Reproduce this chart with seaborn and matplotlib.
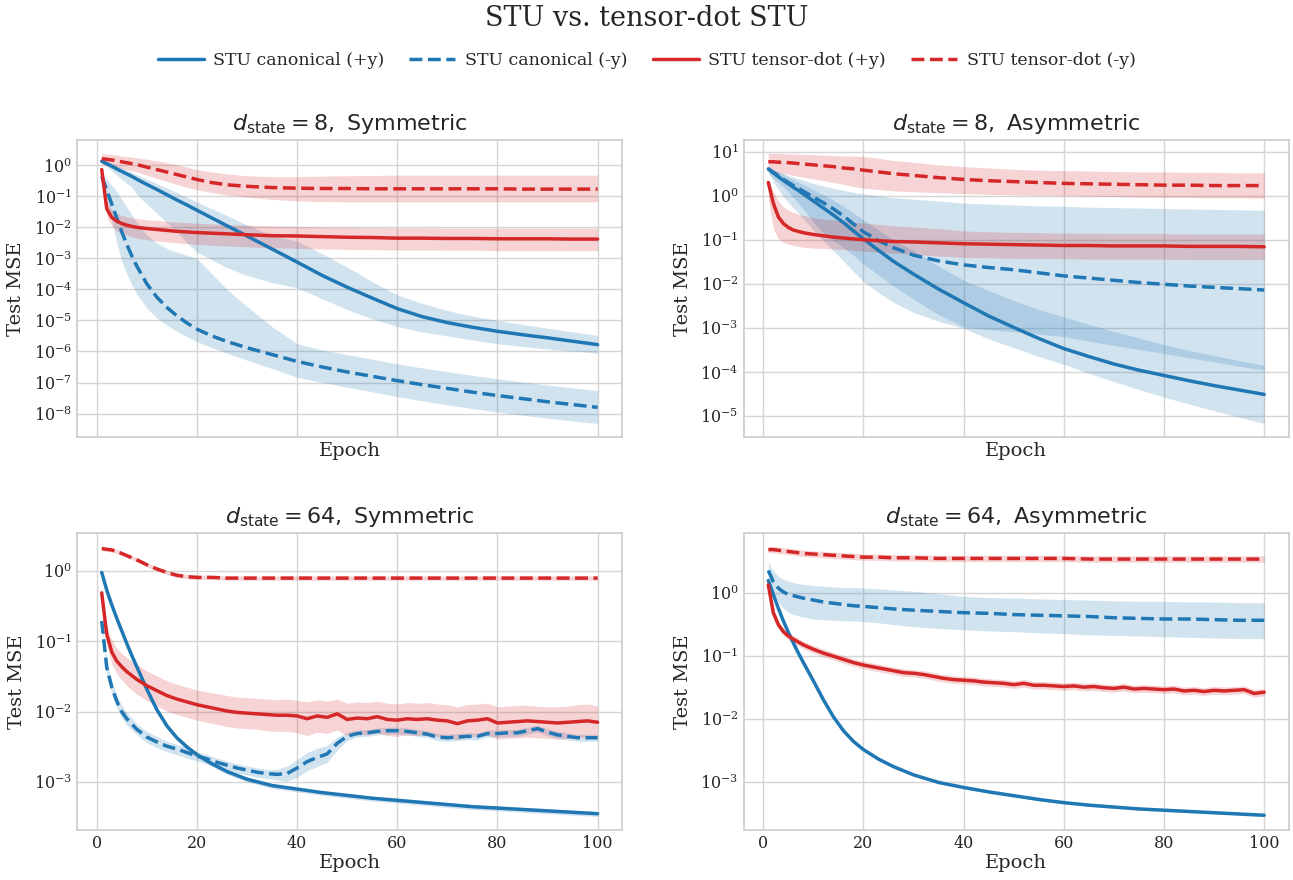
import numpy as np
import matplotlib
matplotlib.use("Agg")
import matplotlib.pyplot as plt
import matplotlib.ticker as mticker
import seaborn as sns

# ---------------- data (log10 of Test MSE) ----------------
EP_SMOOTH = [1, 2, 3, 4, 5, 6, 7, 8, 10, 12, 14, 16, 18, 20, 23, 26, 30, 35, 40, 45, 50, 55, 60, 65, 70, 75, 80, 85, 90, 95, 100]
EP_FINE = [1, 2, 3, 4, 5, 6, 8, 10, 12, 14, 16, 18, 20, 22, 24, 26, 28, 30, 32, 34, 36, 38, 40,
           42, 44, 46, 48, 50, 52, 54, 56, 58, 60, 62, 64, 66, 68, 70, 72, 74, 76, 78, 80, 82,
           84, 86, 88, 90, 92, 94, 96, 98, 100]

SERIES_LABELS = ["STU canonical (+y)", "STU canonical (-y)", "STU tensor-dot (+y)", "STU tensor-dot (-y)"]
PANEL_TITLES = [r"$d_{\mathrm{state}} = 8,\ \mathrm{Symmetric}$",
                r"$d_{\mathrm{state}} = 8,\ \mathrm{Asymmetric}$",
                r"$d_{\mathrm{state}} = 64,\ \mathrm{Symmetric}$",
                r"$d_{\mathrm{state}} = 64,\ \mathrm{Asymmetric}$"]

# --- d_state = 8, Symmetric ---
tl_canon_pos = [0.13, 0.05, -0.03, -0.12, -0.20, -0.28, -0.36, -0.45, -0.62, -0.78, -0.95, -1.12, -1.28, -1.45, -1.70, -1.95, -2.28, -2.70, -3.12, -3.55, -3.93, -4.28, -4.62, -4.88, -5.07, -5.22, -5.35, -5.46, -5.56, -5.67, -5.78]
tl_canon_pos_hi = [0.18, 0.12, 0.06, -0.02, -0.08, -0.15, -0.22, -0.30, -0.45, -0.59, -0.73, -0.88, -1.03, -1.19, -1.40, -1.62, -1.93, -2.25, -2.45, -2.85, -3.28, -3.75, -4.18, -4.45, -4.68, -4.86, -5.00, -5.13, -5.25, -5.37, -5.48]
tl_canon_pos_lo = [0.08, -0.05, -0.18, -0.32, -0.45, -0.58, -0.70, -0.95, -1.25, -1.55, -1.85, -2.15, -2.50, -2.80, -3.05, -3.30, -3.55, -3.78, -3.95, -4.30, -4.65, -4.95, -5.20, -5.37, -5.50, -5.63, -5.75, -5.84, -5.92, -5.99, -6.05]
tl_canon_neg = [-0.36, -0.80, -1.25, -1.70, -2.15, -2.55, -2.92, -3.25, -3.82, -4.25, -4.58, -4.85, -5.08, -5.28, -5.50, -5.68, -5.88, -6.10, -6.32, -6.50, -6.66, -6.80, -6.94, -7.07, -7.19, -7.31, -7.42, -7.52, -7.62, -7.71, -7.80]
tl_canon_neg_hi = [-0.28, -0.45, -0.65, -0.85, -1.10, -1.35, -1.60, -1.85, -2.25, -2.50, -2.68, -2.80, -2.90, -3.00, -3.50, -4.00, -4.55, -5.20, -5.75, -5.95, -6.10, -6.25, -6.40, -6.53, -6.65, -6.77, -6.88, -6.98, -7.08, -7.17, -7.26]
tl_canon_neg_lo = [-0.45, -1.10, -1.80, -2.50, -3.10, -3.50, -3.85, -4.15, -4.60, -4.92, -5.15, -5.35, -5.52, -5.68, -5.88, -6.05, -6.28, -6.55, -6.83, -7.00, -7.15, -7.30, -7.45, -7.59, -7.72, -7.84, -7.95, -8.05, -8.15, -8.24, -8.32]
tl_tensor_pos = [-0.14, -1.40, -1.68, -1.80, -1.88, -1.93, -1.97, -2.00, -2.04, -2.07, -2.10, -2.13, -2.15, -2.17, -2.19, -2.21, -2.24, -2.27, -2.28, -2.30, -2.32, -2.33, -2.35, -2.35, -2.36, -2.36, -2.37, -2.37, -2.37, -2.38, -2.38]
tl_tensor_pos_hi = [-0.05, -1.15, -1.42, -1.55, -1.62, -1.66, -1.69, -1.72, -1.76, -1.78, -1.81, -1.83, -1.85, -1.87, -1.89, -1.91, -1.93, -1.96, -1.97, -1.99, -2.00, -2.01, -2.02, -2.02, -2.03, -2.03, -2.03, -2.03, -2.03, -2.03, -2.03]
tl_tensor_pos_lo = [-0.25, -1.65, -1.95, -2.12, -2.20, -2.26, -2.31, -2.35, -2.40, -2.44, -2.47, -2.50, -2.53, -2.55, -2.58, -2.60, -2.63, -2.66, -2.68, -2.70, -2.71, -2.72, -2.73, -2.73, -2.74, -2.74, -2.75, -2.75, -2.75, -2.75, -2.75]
tl_tensor_neg = [0.21, 0.19, 0.17, 0.14, 0.11, 0.08, 0.05, 0.02, -0.06, -0.14, -0.22, -0.30, -0.38, -0.46, -0.56, -0.63, -0.68, -0.72, -0.74, -0.75, -0.75, -0.76, -0.76, -0.76, -0.76, -0.76, -0.76, -0.77, -0.77, -0.77, -0.77]
tl_tensor_neg_hi = [0.38, 0.36, 0.34, 0.32, 0.30, 0.28, 0.26, 0.24, 0.19, 0.14, 0.08, 0.01, -0.06, -0.14, -0.22, -0.28, -0.34, -0.37, -0.37, -0.35, -0.34, -0.33, -0.32, -0.32, -0.32, -0.32, -0.32, -0.32, -0.32, -0.32, -0.32]
tl_tensor_neg_lo = [0.02, 0.00, -0.03, -0.06, -0.10, -0.14, -0.18, -0.22, -0.32, -0.42, -0.52, -0.62, -0.71, -0.79, -0.88, -0.96, -1.03, -1.10, -1.15, -1.17, -1.18, -1.18, -1.18, -1.18, -1.18, -1.18, -1.18, -1.18, -1.18, -1.18, -1.18]

# --- d_state = 8, Asymmetric ---
tr_canon_pos = [0.61, 0.52, 0.43, 0.35, 0.27, 0.19, 0.12, 0.04, -0.12, -0.28, -0.44, -0.61, -0.80, -0.98, -1.24, -1.49, -1.78, -2.12, -2.43, -2.73, -2.99, -3.24, -3.47, -3.65, -3.82, -3.96, -4.08, -4.20, -4.31, -4.41, -4.51]
tr_canon_pos_hi = [0.66, 0.60, 0.54, 0.48, 0.42, 0.36, 0.30, 0.25, 0.14, 0.02, -0.10, -0.24, -0.39, -0.55, -0.78, -1.00, -1.25, -1.60, -1.92, -2.15, -2.38, -2.58, -2.75, -2.92, -3.08, -3.23, -3.38, -3.51, -3.63, -3.74, -3.85]
tr_canon_pos_lo = [0.56, 0.32, 0.14, -0.02, -0.15, -0.28, -0.40, -0.52, -0.78, -1.02, -1.25, -1.48, -1.72, -1.95, -2.20, -2.42, -2.65, -2.85, -3.01, -3.25, -3.45, -3.65, -3.83, -4.03, -4.22, -4.40, -4.57, -4.73, -4.88, -5.03, -5.17]
tr_canon_neg = [0.61, 0.53, 0.45, 0.37, 0.30, 0.23, 0.17, 0.10, -0.03, -0.16, -0.30, -0.46, -0.64, -0.82, -1.02, -1.18, -1.35, -1.48, -1.57, -1.63, -1.68, -1.75, -1.82, -1.87, -1.92, -1.97, -2.01, -2.05, -2.08, -2.11, -2.14]
tr_canon_neg_hi = [0.62, 0.58, 0.54, 0.50, 0.46, 0.42, 0.38, 0.35, 0.28, 0.22, 0.17, 0.12, 0.08, 0.04, 0.00, -0.04, -0.08, -0.12, -0.17, -0.19, -0.21, -0.23, -0.24, -0.26, -0.27, -0.28, -0.29, -0.30, -0.31, -0.32, -0.33]
tr_canon_neg_lo = [0.50, 0.40, 0.30, 0.20, 0.08, -0.04, -0.17, -0.30, -0.60, -0.85, -1.02, -1.18, -1.35, -1.55, -1.80, -2.05, -2.35, -2.70, -2.98, -3.04, -3.09, -3.14, -3.20, -3.30, -3.40, -3.49, -3.58, -3.68, -3.77, -3.87, -3.96]
tr_tensor_pos = [0.30, -0.17, -0.48, -0.63, -0.72, -0.78, -0.81, -0.84, -0.88, -0.91, -0.94, -0.96, -0.98, -1.00, -1.02, -1.04, -1.05, -1.07, -1.09, -1.10, -1.11, -1.12, -1.13, -1.13, -1.14, -1.14, -1.14, -1.15, -1.15, -1.15, -1.16]
tr_tensor_pos_hi = [0.35, 0.10, -0.12, -0.25, -0.33, -0.38, -0.42, -0.45, -0.50, -0.53, -0.55, -0.57, -0.60, -0.62, -0.65, -0.68, -0.71, -0.75, -0.80, -0.82, -0.83, -0.84, -0.85, -0.85, -0.86, -0.86, -0.86, -0.87, -0.87, -0.87, -0.87]
tr_tensor_pos_lo = [-0.10, -0.75, -0.98, -1.06, -1.10, -1.13, -1.15, -1.17, -1.19, -1.20, -1.21, -1.22, -1.24, -1.26, -1.28, -1.30, -1.33, -1.37, -1.40, -1.41, -1.42, -1.43, -1.43, -1.44, -1.44, -1.44, -1.44, -1.45, -1.45, -1.45, -1.45]
tr_tensor_neg = [0.77, 0.77, 0.76, 0.76, 0.75, 0.74, 0.73, 0.72, 0.70, 0.68, 0.66, 0.63, 0.61, 0.58, 0.54, 0.50, 0.46, 0.41, 0.37, 0.34, 0.32, 0.30, 0.28, 0.27, 0.26, 0.25, 0.24, 0.24, 0.23, 0.23, 0.23]
tr_tensor_neg_hi = [0.96, 0.96, 0.96, 0.96, 0.95, 0.95, 0.94, 0.94, 0.93, 0.92, 0.91, 0.90, 0.90, 0.89, 0.85, 0.80, 0.76, 0.70, 0.66, 0.63, 0.60, 0.58, 0.57, 0.56, 0.55, 0.54, 0.54, 0.53, 0.53, 0.52, 0.52]
tr_tensor_neg_lo = [0.55, 0.54, 0.52, 0.50, 0.48, 0.46, 0.44, 0.42, 0.38, 0.34, 0.30, 0.26, 0.21, 0.17, 0.14, 0.11, 0.09, 0.07, 0.05, 0.03, 0.02, 0.01, 0.00, -0.01, -0.02, -0.03, -0.04, -0.04, -0.05, -0.05, -0.06]

# --- d_state = 64, Symmetric ---
bl_canon_pos = [-0.02, -0.27, -0.48, -0.67, -0.85, -1.03, -1.20, -1.36, -1.68, -1.97, -2.20, -2.37, -2.50, -2.61, -2.74, -2.85, -2.96, -3.05, -3.10, -3.15, -3.19, -3.23, -3.26, -3.29, -3.32, -3.35, -3.37, -3.39, -3.41, -3.43, -3.45]
bl_canon_pos_hi = [0.01, -0.24, -0.45, -0.64, -0.82, -1.00, -1.17, -1.33, -1.65, -1.94, -2.17, -2.34, -2.47, -2.58, -2.71, -2.82, -2.93, -3.02, -3.07, -3.12, -3.16, -3.20, -3.23, -3.26, -3.29, -3.32, -3.34, -3.36, -3.38, -3.40, -3.42]
bl_canon_pos_lo = [-0.06, -0.31, -0.52, -0.71, -0.89, -1.07, -1.24, -1.40, -1.72, -2.01, -2.24, -2.41, -2.54, -2.65, -2.78, -2.89, -3.00, -3.09, -3.14, -3.19, -3.23, -3.27, -3.30, -3.33, -3.36, -3.39, -3.41, -3.43, -3.45, -3.47, -3.49]
bl_canon_neg = [-0.71, -1.37, -1.65, -1.85, -2.00, -2.10, -2.25, -2.36, -2.43, -2.49, -2.53, -2.58, -2.63, -2.67, -2.72, -2.76, -2.80, -2.83, -2.86, -2.88, -2.89, -2.88, -2.80,
                -2.71, -2.65, -2.60, -2.45, -2.35, -2.31, -2.30, -2.28, -2.27, -2.27, -2.28, -2.30, -2.32, -2.36, -2.37, -2.36, -2.35, -2.35, -2.31, -2.31, -2.30,
                -2.30, -2.27, -2.24, -2.29, -2.33, -2.35, -2.37, -2.37, -2.37]
bl_canon_neg_hi = [-0.66, -1.29, -1.56, -1.76, -1.91, -2.01, -2.17, -2.28, -2.35, -2.42, -2.46, -2.51, -2.57, -2.61, -2.66, -2.70, -2.74, -2.77, -2.80, -2.82, -2.82, -2.77, -2.68,
                   -2.58, -2.52, -2.48, -2.36, -2.29, -2.26, -2.25, -2.23, -2.22, -2.22, -2.23, -2.25, -2.27, -2.31, -2.32, -2.31, -2.30, -2.30, -2.26, -2.26, -2.25,
                   -2.25, -2.22, -2.19, -2.24, -2.28, -2.30, -2.32, -2.32, -2.32]
bl_canon_neg_lo = [-0.76, -1.46, -1.74, -1.94, -2.09, -2.19, -2.33, -2.44, -2.51, -2.57, -2.61, -2.66, -2.70, -2.74, -2.79, -2.83, -2.87, -2.90, -2.93, -2.95, -2.97, -2.99, -2.93,
                   -2.84, -2.78, -2.72, -2.55, -2.41, -2.36, -2.35, -2.33, -2.32, -2.32, -2.33, -2.35, -2.37, -2.41, -2.42, -2.41, -2.40, -2.40, -2.36, -2.36, -2.35,
                   -2.35, -2.32, -2.29, -2.34, -2.38, -2.40, -2.42, -2.42, -2.42]
bl_tensor_pos = [-0.31, -0.90, -1.15, -1.28, -1.36, -1.43, -1.54, -1.63, -1.70, -1.77, -1.82, -1.86, -1.90, -1.93, -1.96, -1.99, -2.01, -2.02, -2.03, -2.04, -2.05, -2.05, -2.06,
                 -2.10, -2.06, -2.08, -2.03, -2.11, -2.09, -2.10, -2.07, -2.11, -2.12, -2.10, -2.11, -2.10, -2.12, -2.13, -2.17, -2.13, -2.12, -2.10, -2.16, -2.15,
                 -2.14, -2.13, -2.14, -2.15, -2.16, -2.15, -2.14, -2.13, -2.15]
bl_tensor_pos_hi = [-0.25, -0.78, -0.98, -1.10, -1.17, -1.23, -1.33, -1.42, -1.49, -1.56, -1.61, -1.65, -1.69, -1.72, -1.74, -1.77, -1.79, -1.80, -1.81, -1.82, -1.83, -1.82, -1.84,
                    -1.86, -1.83, -1.85, -1.82, -1.88, -1.86, -1.87, -1.85, -1.88, -1.89, -1.87, -1.88, -1.87, -1.89, -1.90, -1.93, -1.90, -1.89, -1.88, -1.93, -1.92,
                    -1.91, -1.91, -1.92, -1.93, -1.93, -1.92, -1.90, -1.89, -1.92]
bl_tensor_pos_lo = [-0.36, -1.02, -1.32, -1.46, -1.55, -1.63, -1.75, -1.84, -1.92, -1.99, -2.04, -2.08, -2.12, -2.15, -2.18, -2.21, -2.23, -2.24, -2.25, -2.27, -2.28, -2.28, -2.30,
                    -2.34, -2.29, -2.31, -2.26, -2.34, -2.32, -2.33, -2.30, -2.34, -2.35, -2.33, -2.34, -2.33, -2.35, -2.36, -2.40, -2.36, -2.35, -2.33, -2.39, -2.38,
                    -2.37, -2.36, -2.37, -2.38, -2.39, -2.38, -2.37, -2.36, -2.38]
bl_tensor_neg = [0.32, 0.31, 0.30, 0.28, 0.25, 0.22, 0.19, 0.16, 0.09, 0.03, -0.02, -0.06, -0.08, -0.09, -0.09, -0.10, -0.10, -0.10, -0.10, -0.10, -0.10, -0.10, -0.10, -0.10, -0.10, -0.10, -0.10, -0.10, -0.10, -0.10, -0.10]
bl_tensor_neg_hi = [0.35, 0.34, 0.33, 0.31, 0.28, 0.25, 0.22, 0.19, 0.12, 0.06, 0.01, -0.03, -0.05, -0.06, -0.06, -0.07, -0.07, -0.07, -0.07, -0.07, -0.07, -0.07, -0.07, -0.07, -0.07, -0.07, -0.07, -0.07, -0.07, -0.07, -0.07]
bl_tensor_neg_lo = [0.29, 0.28, 0.27, 0.25, 0.22, 0.19, 0.16, 0.13, 0.06, 0.00, -0.05, -0.09, -0.11, -0.12, -0.12, -0.13, -0.13, -0.13, -0.13, -0.13, -0.13, -0.13, -0.13, -0.13, -0.13, -0.13, -0.13, -0.13, -0.13, -0.13, -0.13]

# --- d_state = 64, Asymmetric ---
br_canon_pos = [0.19, -0.03, -0.25, -0.45, -0.63, -0.80, -0.96, -1.11, -1.40, -1.70, -1.97, -2.19, -2.36, -2.49, -2.64, -2.76, -2.89, -3.01, -3.09, -3.16, -3.22, -3.28, -3.33, -3.37, -3.40, -3.43, -3.45, -3.47, -3.49, -3.51, -3.53]
br_canon_pos_hi = [0.21, -0.01, -0.23, -0.43, -0.61, -0.78, -0.94, -1.09, -1.38, -1.68, -1.95, -2.17, -2.34, -2.47, -2.62, -2.74, -2.87, -2.99, -3.07, -3.14, -3.20, -3.26, -3.31, -3.35, -3.38, -3.41, -3.43, -3.45, -3.47, -3.49, -3.51]
br_canon_pos_lo = [0.17, -0.05, -0.27, -0.47, -0.65, -0.82, -0.98, -1.13, -1.42, -1.72, -1.99, -2.21, -2.38, -2.51, -2.66, -2.78, -2.91, -3.03, -3.11, -3.18, -3.24, -3.30, -3.35, -3.39, -3.42, -3.45, -3.47, -3.49, -3.51, -3.53, -3.55]
br_canon_neg = [0.35, 0.17, 0.07, 0.01, -0.03, -0.05, -0.07, -0.09, -0.12, -0.15, -0.17, -0.19, -0.21, -0.22, -0.24, -0.26, -0.28, -0.30, -0.32, -0.33, -0.35, -0.36, -0.37, -0.38, -0.40, -0.41, -0.42, -0.42, -0.43, -0.44, -0.44]
br_canon_neg_hi = [0.48, 0.34, 0.26, 0.21, 0.18, 0.16, 0.14, 0.13, 0.11, 0.10, 0.09, 0.08, 0.08, 0.07, 0.06, 0.04, 0.02, -0.02, -0.06, -0.08, -0.09, -0.10, -0.11, -0.12, -0.13, -0.14, -0.14, -0.15, -0.15, -0.16, -0.16]
br_canon_neg_lo = [0.22, 0.00, -0.15, -0.25, -0.31, -0.35, -0.37, -0.39, -0.42, -0.43, -0.44, -0.45, -0.45, -0.46, -0.48, -0.51, -0.54, -0.57, -0.59, -0.61, -0.62, -0.64, -0.65, -0.67, -0.68, -0.69, -0.70, -0.71, -0.72, -0.73, -0.73]
br_tensor_pos = [0.12, -0.32, -0.51, -0.62, -0.69, -0.74, -0.83, -0.90, -0.96, -1.01, -1.06, -1.11, -1.15, -1.18, -1.21, -1.24, -1.27, -1.28, -1.30, -1.33, -1.36, -1.38, -1.39,
                 -1.40, -1.42, -1.43, -1.44, -1.46, -1.44, -1.47, -1.47, -1.48, -1.49, -1.48, -1.50, -1.49, -1.51, -1.52, -1.50, -1.53, -1.52, -1.53, -1.54, -1.53,
                 -1.56, -1.55, -1.57, -1.55, -1.56, -1.55, -1.54, -1.60, -1.58]
br_tensor_pos_hi = [0.18, -0.26, -0.45, -0.56, -0.63, -0.68, -0.77, -0.84, -0.90, -0.95, -1.00, -1.05, -1.09, -1.12, -1.15, -1.18, -1.21, -1.22, -1.24, -1.27, -1.30, -1.32, -1.33,
                    -1.34, -1.36, -1.37, -1.38, -1.40, -1.38, -1.41, -1.41, -1.42, -1.43, -1.42, -1.44, -1.43, -1.45, -1.46, -1.44, -1.47, -1.46, -1.47, -1.48, -1.47,
                    -1.50, -1.49, -1.51, -1.49, -1.50, -1.49, -1.48, -1.54, -1.52]
br_tensor_pos_lo = [0.06, -0.38, -0.57, -0.68, -0.75, -0.80, -0.89, -0.96, -1.02, -1.07, -1.12, -1.17, -1.21, -1.24, -1.27, -1.30, -1.33, -1.34, -1.36, -1.39, -1.42, -1.44, -1.45,
                    -1.46, -1.48, -1.49, -1.50, -1.52, -1.50, -1.53, -1.53, -1.54, -1.55, -1.54, -1.56, -1.55, -1.57, -1.58, -1.56, -1.59, -1.58, -1.59, -1.60, -1.59,
                    -1.62, -1.61, -1.63, -1.61, -1.62, -1.61, -1.60, -1.66, -1.64]
br_tensor_neg = [0.68, 0.68, 0.67, 0.66, 0.65, 0.64, 0.63, 0.62, 0.61, 0.60, 0.59, 0.58, 0.57, 0.56, 0.56, 0.55, 0.55, 0.54, 0.54, 0.54, 0.54, 0.54, 0.54, 0.53, 0.53, 0.53, 0.53, 0.53, 0.53, 0.53, 0.53]
br_tensor_neg_hi = [0.73, 0.73, 0.72, 0.71, 0.70, 0.69, 0.68, 0.67, 0.66, 0.65, 0.64, 0.63, 0.62, 0.61, 0.61, 0.60, 0.60, 0.59, 0.59, 0.59, 0.59, 0.59, 0.59, 0.58, 0.58, 0.58, 0.58, 0.58, 0.58, 0.58, 0.58]
br_tensor_neg_lo = [0.63, 0.63, 0.62, 0.61, 0.60, 0.59, 0.58, 0.57, 0.56, 0.55, 0.54, 0.53, 0.52, 0.51, 0.51, 0.50, 0.50, 0.49, 0.49, 0.49, 0.49, 0.49, 0.49, 0.48, 0.48, 0.48, 0.48, 0.48, 0.48, 0.48, 0.48]

# ---------------- style ----------------
sns.set_theme(style="whitegrid")
plt.rcParams["font.family"] = ["DejaVu Serif", "DejaVu Sans"]
plt.rcParams["mathtext.fontset"] = "dejavusans"
plt.rcParams["axes.edgecolor"] = "#cccccc"
plt.rcParams["grid.color"] = "#d5d5d5"

BLUE = "#1f77b4"
RED = "#d62728"
STYLES = [(BLUE, "-"), (BLUE, "--"), (RED, "-"), (RED, "--")]

fig, axes = plt.subplots(2, 2, figsize=(12.93, 8.8), dpi=100, sharex=True)
fig.subplots_adjust(left=0.0595, right=0.9969, top=0.841, bottom=0.0568, wspace=0.222, hspace=0.323)

panel_data = [
    [(EP_SMOOTH, tl_canon_pos, tl_canon_pos_lo, tl_canon_pos_hi),
     (EP_SMOOTH, tl_canon_neg, tl_canon_neg_lo, tl_canon_neg_hi),
     (EP_SMOOTH, tl_tensor_pos, tl_tensor_pos_lo, tl_tensor_pos_hi),
     (EP_SMOOTH, tl_tensor_neg, tl_tensor_neg_lo, tl_tensor_neg_hi)],
    [(EP_SMOOTH, tr_canon_pos, tr_canon_pos_lo, tr_canon_pos_hi),
     (EP_SMOOTH, tr_canon_neg, tr_canon_neg_lo, tr_canon_neg_hi),
     (EP_SMOOTH, tr_tensor_pos, tr_tensor_pos_lo, tr_tensor_pos_hi),
     (EP_SMOOTH, tr_tensor_neg, tr_tensor_neg_lo, tr_tensor_neg_hi)],
    [(EP_SMOOTH, bl_canon_pos, bl_canon_pos_lo, bl_canon_pos_hi),
     (EP_FINE, bl_canon_neg, bl_canon_neg_lo, bl_canon_neg_hi),
     (EP_FINE, bl_tensor_pos, bl_tensor_pos_lo, bl_tensor_pos_hi),
     (EP_SMOOTH, bl_tensor_neg, bl_tensor_neg_lo, bl_tensor_neg_hi)],
    [(EP_SMOOTH, br_canon_pos, br_canon_pos_lo, br_canon_pos_hi),
     (EP_SMOOTH, br_canon_neg, br_canon_neg_lo, br_canon_neg_hi),
     (EP_FINE, br_tensor_pos, br_tensor_pos_lo, br_tensor_pos_hi),
     (EP_SMOOTH, br_tensor_neg, br_tensor_neg_lo, br_tensor_neg_hi)],
]

for idx, (ax, series) in enumerate(zip(axes.flat, panel_data)):
    for (ep, mean, lo, hi), (color, ls), label in zip(series, STYLES, SERIES_LABELS):
        n = min(len(ep), len(mean), len(lo), len(hi))
        ep = np.asarray(ep[:n], dtype=float)
        ax.fill_between(ep, 10 ** np.asarray(lo[:n]), 10 ** np.asarray(hi[:n]),
                        color=color, alpha=0.2, linewidth=0)
        sns.lineplot(x=ep, y=10 ** np.asarray(mean[:n]), ax=ax, color=color,
                     linestyle=ls, linewidth=2.5, label=label, legend=False)
    ax.set_yscale("log")
    ax.yaxis.set_major_locator(mticker.LogLocator(base=10, numticks=30))
    ax.yaxis.set_minor_locator(mticker.NullLocator())
    ax.xaxis.set_major_locator(mticker.MultipleLocator(20))
    ax.set_title(PANEL_TITLES[idx], fontsize=16, pad=7)
    ax.set_xlabel("Epoch", fontsize=14, labelpad=3.5 if idx < 2 else 1.5)
    ax.xaxis.label.set_visible(True)
    ax.set_ylabel("Test MSE", fontsize=14, labelpad=6)
    ax.tick_params(axis="both", labelsize=11.5, length=0, pad=3.5)
    for sp in ax.spines.values():
        sp.set_color("#cccccc")
        sp.set_linewidth(1.2)
    if idx < 2:
        ax.tick_params(axis="x", labelbottom=False)
    if ax.get_legend() is not None:
        ax.get_legend().remove()

handles, labels = axes[0, 0].get_legend_handles_labels()
fig.legend(handles, labels, loc="center", bbox_to_anchor=(0.5, 0.931), ncol=4,
           frameon=False, fontsize=12.5, handlelength=2.65, columnspacing=1.45, handletextpad=0.55)
fig.suptitle("STU vs. tensor-dot STU", fontsize=19.5, y=0.979, va="center")

fig.savefig("out.png", dpi=100)
